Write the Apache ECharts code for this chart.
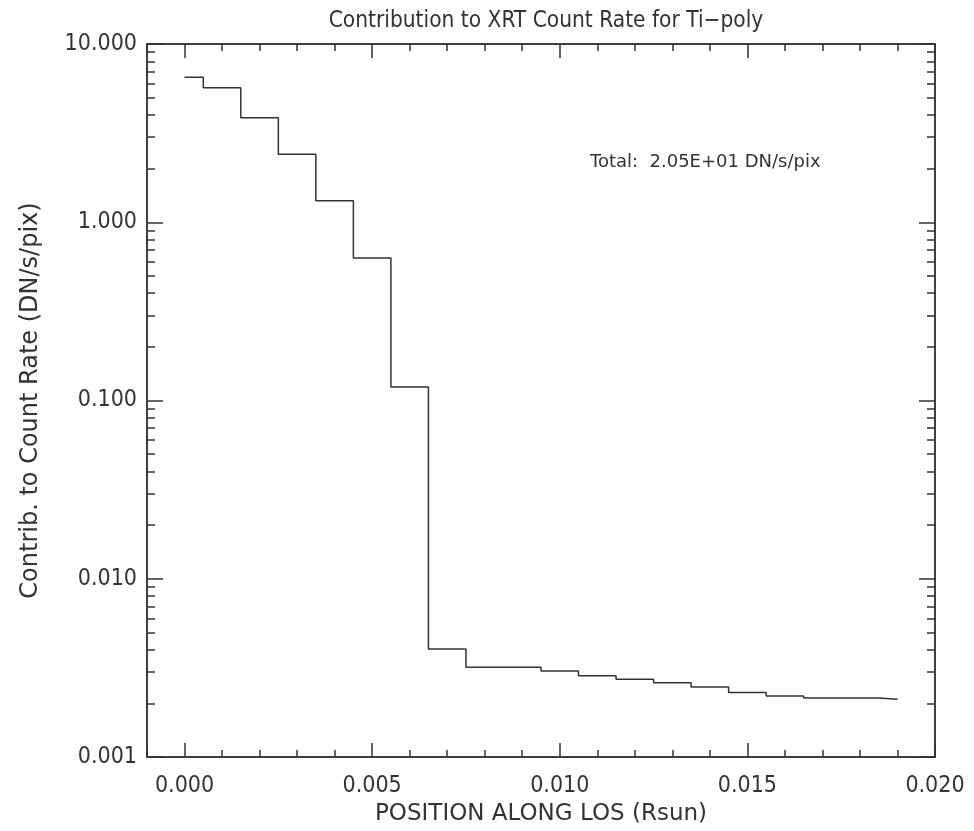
<!DOCTYPE html>
<html>
<head>
<meta charset="utf-8">
<script src="https://cdn.jsdelivr.net/npm/echarts@6/dist/echarts.min.js"></script>
<style>
html,body{margin:0;padding:0;background:#fff;}
#chart{width:974px;height:831px;}
</style>
</head>
<body>
<div id="chart"></div>
<script>
// ---- data ----
var positions = [0.000, 0.001, 0.002, 0.003, 0.004, 0.005, 0.006, 0.007, 0.008, 0.009,
                 0.010, 0.011, 0.012, 0.013, 0.014, 0.015, 0.016, 0.017, 0.018, 0.019];
var contrib = [6.5, 5.69, 3.86, 2.41, 1.32, 0.631, 0.119, 0.00403, 0.00319, 0.00319,
               0.00304, 0.00286, 0.00273, 0.00261, 0.00247, 0.00230, 0.00220, 0.00214, 0.00214, 0.00211];
var xMajorTicks = [0.000, 0.005, 0.010, 0.015, 0.020];
var xMinorTicks = [-0.001, 0.001, 0.002, 0.003, 0.004, 0.006, 0.007, 0.008, 0.009, 0.011, 0.012,
                   0.013, 0.014, 0.016, 0.017, 0.018, 0.019];
var yMajorTicks = [0.001, 0.01, 0.1, 1, 10];
var titleText = 'Contribution to XRT Count Rate for Ti\u2212poly';
var xTitle = 'POSITION ALONG LOS (Rsun)';
var yTitle = 'Contrib. to Count Rate (DN/s/pix)';
var noteText = 'Total:  2.05E+01 DN/s/pix';

var yMinorTicks = [];
[0.001, 0.01, 0.1, 1].forEach(function (d) {
  for (var m = 2; m <= 9; m++) yMinorTicks.push(+(m * d).toPrecision(3));
});

var FONT = '"DejaVu Sans Condensed","Liberation Sans Narrow","Liberation Sans",sans-serif';
var FONT_W = '"DejaVu Sans","Liberation Sans",sans-serif';
var INK = '#333';

var seriesData = positions.map(function (x, i) { return [x, contrib[i]]; });

function xAx(pos, ticks, len, labels) {
  return {
    type: 'value', position: pos, min: -0.001, max: 0.020,
    axisLine: { show: true, onZero: false, lineStyle: { color: INK, width: 1.5 } },
    axisTick: { show: true, inside: true, length: len, customValues: ticks, lineStyle: { color: INK, width: 1.5 } },
    axisLabel: labels ? { show: true, customValues: ticks, margin: 18, fontSize: 23, fontFamily: FONT, color: INK,
      formatter: function (v) { return (+v).toFixed(3); } } : { show: false },
    splitLine: { show: false }
  };
}
function yAx(pos, ticks, len, labels) {
  return {
    type: 'log', position: pos, min: 0.001, max: 10, logBase: 10,
    axisLine: { show: true, onZero: false, lineStyle: { color: INK, width: 1.5 } },
    axisTick: { show: true, inside: true, length: len, customValues: ticks, lineStyle: { color: INK, width: 1.5 } },
    axisLabel: labels ? { show: true, customValues: ticks, margin: 10, fontSize: 23, fontFamily: FONT, color: INK,
      formatter: function (v) { return (+v).toFixed(3); } } : { show: false },
    splitLine: { show: false }
  };
}

var xAxes = [
  xAx('bottom', xMajorTicks, 14, true),
  xAx('bottom', xMinorTicks, 7, false),
  xAx('top', xMajorTicks, 14, false),
  xAx('top', xMinorTicks, 7, false)
];
xAxes[0].name = xTitle;
xAxes[0].nameLocation = 'middle';
xAxes[0].nameGap = 44;
xAxes[0].nameTextStyle = { fontSize: 23, fontFamily: FONT_W, color: INK };

var yAxes = [
  yAx('left', yMajorTicks, 16, true),
  yAx('left', yMinorTicks, 8, false),
  yAx('right', yMajorTicks, 16, false),
  yAx('right', yMinorTicks, 8, false)
];
yAxes[0].name = yTitle;
yAxes[0].nameLocation = 'middle';
yAxes[0].nameGap = 104;
yAxes[0].nameRotate = 90;
yAxes[0].nameTextStyle = { fontSize: 24, fontFamily: FONT_W, color: INK };

var chart = echarts.init(document.getElementById('chart'), null, { renderer: 'canvas' });
chart.setOption({
  animation: false,
  backgroundColor: '#fff',
  title: {
    text: titleText, left: 541, textAlign: 'center', top: 5,
    textStyle: { fontSize: 22.5, fontWeight: 'normal', fontFamily: FONT, color: INK }
  },
  grid: { left: 147, right: 39, top: 44, bottom: 74, containLabel: false },
  xAxis: xAxes,
  yAxis: yAxes,
  graphic: [{
    type: 'text', left: 590, top: 153,
    style: { text: noteText, fontSize: 18, fontFamily: FONT_W, fill: INK }
  }],
  series: [{
    type: 'line', step: 'middle', xAxisIndex: 0, yAxisIndex: 0,
    data: seriesData, showSymbol: false, symbol: 'none',
    lineStyle: { color: INK, width: 1.5 }
  }]
});
</script>
</body>
</html>
